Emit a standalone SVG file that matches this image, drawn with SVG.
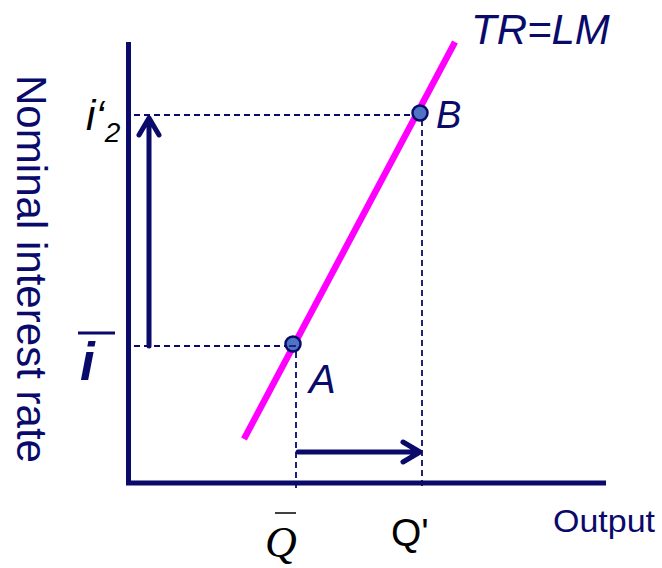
<svg xmlns="http://www.w3.org/2000/svg" width="662" height="568" viewBox="0 0 662 568">
<style>
.axis{stroke:#0a0a6b;stroke-width:5;fill:none}
.dash{stroke:#0a0a6b;stroke-width:1.8;stroke-dasharray:6,4;fill:none}
.arr{stroke:#0a0a6b;stroke-width:5;fill:none;stroke-linecap:round;stroke-linejoin:round}
.pt{fill:#4f74c4;stroke:#0a0a6b;stroke-width:2.5}
.lbl{font-family:"Liberation Sans",Arial,sans-serif;fill:#0a0a6b}
.blk{font-family:"Liberation Sans",Arial,sans-serif;fill:#000}
</style>
<rect width="662" height="568" fill="#fff"/>
<g id="connectors">
<line class="dash" x1="134" y1="115" x2="418" y2="115"/>
<line class="dash" x1="422" y1="120" x2="422" y2="490"/>
<line class="dash" x1="134" y1="346" x2="290" y2="346"/>
<line class="dash" x1="296" y1="352" x2="296" y2="490"/>
<path class="arr" d="M149,346 V118 M139,135 L149,118 L159,135"/>
<path class="arr" d="M298,452 H420 M403,442 L420,452 L403,462"/>
</g>
<g id="axes">
<line class="axis" x1="128.5" y1="42" x2="128.5" y2="485"/>
<line class="axis" x1="126" y1="483" x2="606" y2="483"/>
</g>
<g id="curve">
<line x1="244" y1="439" x2="455" y2="42" stroke="#ff00ff" stroke-width="6.5"/>
</g>
<g id="pointB"><circle class="pt" cx="420" cy="113" r="7.5"/></g>
<g id="pointA"><circle class="pt" cx="293" cy="344" r="7.5"/><line x1="289" y1="346" x2="296" y2="346" stroke="#0a0a6b" stroke-width="1.5"/></g>
<g id="labels">
<text class="lbl" x="0" y="0" font-size="42" textLength="388" lengthAdjust="spacingAndGlyphs" transform="translate(17,75) rotate(90)">Nominal interest rate</text>
<text class="lbl" x="471" y="44" font-size="42" font-style="italic">TR=LM</text>
<text class="lbl" x="436" y="128" font-size="38" font-style="italic">B</text>
<text class="lbl" x="309" y="393" font-size="40" font-style="italic">A</text>
<text class="lbl" x="553" y="532" font-size="31" textLength="102" lengthAdjust="spacingAndGlyphs">Output</text>
<text class="blk" x="86" y="130" font-size="42" font-style="italic">i‘<tspan font-size="28" dy="12">2</tspan></text>
<line x1="78" y1="333" x2="115" y2="333" stroke="#0a0a6b" stroke-width="3"/>
<text class="lbl" x="80" y="380" font-size="53" font-style="italic" font-weight="bold">i</text>
<text class="blk" x="391" y="546" font-size="39">Q'</text>
<text x="265" y="557" font-size="44" font-style="italic" font-family="'Liberation Serif','Times New Roman',serif" fill="#000">Q</text>
<line x1="275" y1="513" x2="296" y2="513" stroke="#000" stroke-width="1.5"/>
</g>
</svg>
